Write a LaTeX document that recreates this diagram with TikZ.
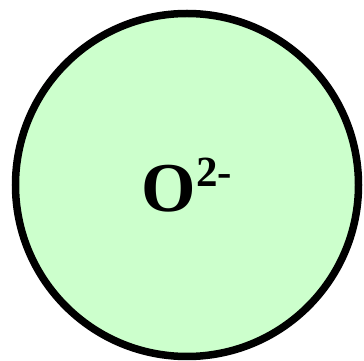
\documentclass[tikz,border=0pt]{standalone}
\usepackage{fontspec}
\setmainfont{Liberation Serif}
\usetikzlibrary{positioning}
\definecolor{IonGreen}{HTML}{CCFFCC}
\tikzset{
  ion/.style={circle, draw=black, line width=7.5pt, fill=IonGreen, minimum size=343pt, inner sep=0pt, align=center, font=\fontsize{70}{70}\selectfont\bfseries}
}
\begin{document}
\begin{tikzpicture}[x=1pt, y=1pt]
\useasboundingbox (0,0) rectangle (364,361);
\node[ion] (oxide) at (187,176) {O\raisebox{25pt}{\fontsize{43}{43}\selectfont 2-}};
\end{tikzpicture}
\end{document}
